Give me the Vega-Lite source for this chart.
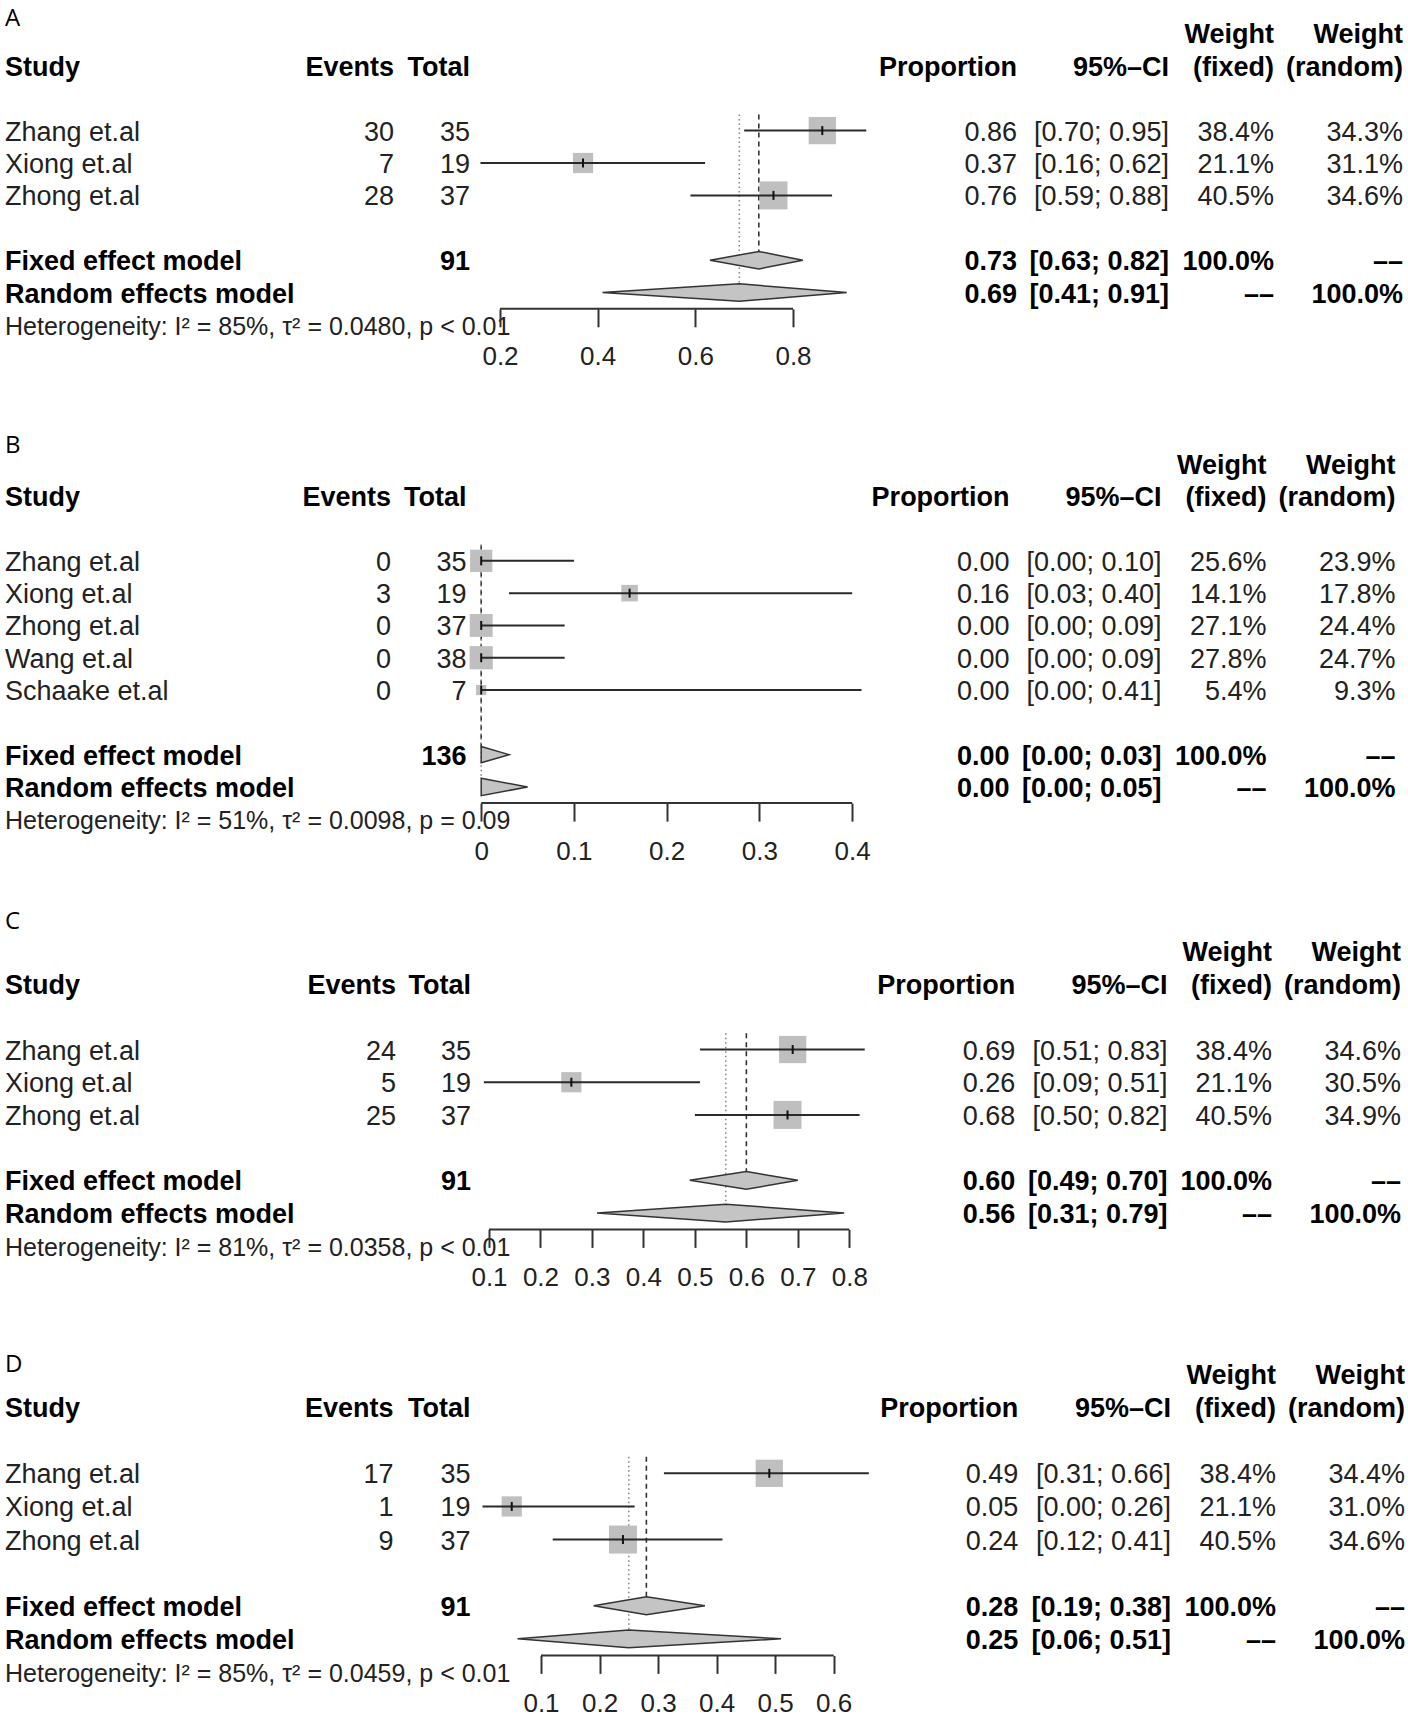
{
"$schema": "https://vega.github.io/schema/vega-lite/v6.json",
"padding": {"left": 5, "top": 1, "right": 0, "bottom": 0},
"background": "white",
"config": {"view": {"stroke": null}, "font": "Liberation Sans", "text": {"font": "Liberation Sans", "fontSize": 27, "baseline": "middle", "dy": 2}},
"datasets": {
"cells": [
{"p":"A","r":-0.52,"k":"lab","study":"A"},
{"p":"A","r":0,"k":"head","wf":"Weight","wr":"Weight"},
{"p":"A","r":1,"k":"head","study":"Study","ev":"Events","tot":"Total","prop":"Proportion","ci":"95%–CI","wf":"(fixed)","wr":"(random)"},
{"p":"A","r":3,"k":"study","study":"Zhang et.al","ev":"30","tot":"35","prop":"0.86","ci":"[0.70; 0.95]","wf":"38.4%","wr":"34.3%"},
{"p":"A","r":4,"k":"study","study":"Xiong et.al","ev":"7","tot":"19","prop":"0.37","ci":"[0.16; 0.62]","wf":"21.1%","wr":"31.1%"},
{"p":"A","r":5,"k":"study","study":"Zhong et.al","ev":"28","tot":"37","prop":"0.76","ci":"[0.59; 0.88]","wf":"40.5%","wr":"34.6%"},
{"p":"A","r":7,"k":"pool","study":"Fixed effect model","tot":"91","prop":"0.73","ci":"[0.63; 0.82]","wf":"100.0%","wr":"––"},
{"p":"A","r":8,"k":"pool","study":"Random effects model","prop":"0.69","ci":"[0.41; 0.91]","wf":"––","wr":"100.0%"},
{"p":"A","r":9,"k":"het","study":"Heterogeneity: I² = 85%, τ² = 0.0480, p < 0.01"},
{"p":"B","r":-0.61,"k":"lab","study":"B"},
{"p":"B","r":0,"k":"head","wf":"Weight","wr":"Weight"},
{"p":"B","r":1,"k":"head","study":"Study","ev":"Events","tot":"Total","prop":"Proportion","ci":"95%–CI","wf":"(fixed)","wr":"(random)"},
{"p":"B","r":3,"k":"study","study":"Zhang et.al","ev":"0","tot":"35","prop":"0.00","ci":"[0.00; 0.10]","wf":"25.6%","wr":"23.9%"},
{"p":"B","r":4,"k":"study","study":"Xiong et.al","ev":"3","tot":"19","prop":"0.16","ci":"[0.03; 0.40]","wf":"14.1%","wr":"17.8%"},
{"p":"B","r":5,"k":"study","study":"Zhong et.al","ev":"0","tot":"37","prop":"0.00","ci":"[0.00; 0.09]","wf":"27.1%","wr":"24.4%"},
{"p":"B","r":6,"k":"study","study":"Wang et.al","ev":"0","tot":"38","prop":"0.00","ci":"[0.00; 0.09]","wf":"27.8%","wr":"24.7%"},
{"p":"B","r":7,"k":"study","study":"Schaake et.al","ev":"0","tot":"7","prop":"0.00","ci":"[0.00; 0.41]","wf":"5.4%","wr":"9.3%"},
{"p":"B","r":9,"k":"pool","study":"Fixed effect model","tot":"136","prop":"0.00","ci":"[0.00; 0.03]","wf":"100.0%","wr":"––"},
{"p":"B","r":10,"k":"pool","study":"Random effects model","prop":"0.00","ci":"[0.00; 0.05]","wf":"––","wr":"100.0%"},
{"p":"B","r":11,"k":"het","study":"Heterogeneity: I² = 51%, τ² = 0.0098, p = 0.09"},
{"p":"C","r":-0.95,"k":"lab","study":"C"},
{"p":"C","r":0,"k":"head","wf":"Weight","wr":"Weight"},
{"p":"C","r":1,"k":"head","study":"Study","ev":"Events","tot":"Total","prop":"Proportion","ci":"95%–CI","wf":"(fixed)","wr":"(random)"},
{"p":"C","r":3,"k":"study","study":"Zhang et.al","ev":"24","tot":"35","prop":"0.69","ci":"[0.51; 0.83]","wf":"38.4%","wr":"34.6%"},
{"p":"C","r":4,"k":"study","study":"Xiong et.al","ev":"5","tot":"19","prop":"0.26","ci":"[0.09; 0.51]","wf":"21.1%","wr":"30.5%"},
{"p":"C","r":5,"k":"study","study":"Zhong et.al","ev":"25","tot":"37","prop":"0.68","ci":"[0.50; 0.82]","wf":"40.5%","wr":"34.9%"},
{"p":"C","r":7,"k":"pool","study":"Fixed effect model","tot":"91","prop":"0.60","ci":"[0.49; 0.70]","wf":"100.0%","wr":"––"},
{"p":"C","r":8,"k":"pool","study":"Random effects model","prop":"0.56","ci":"[0.31; 0.79]","wf":"––","wr":"100.0%"},
{"p":"C","r":9,"k":"het","study":"Heterogeneity: I² = 81%, τ² = 0.0358, p < 0.01"},
{"p":"D","r":-0.34,"k":"lab","study":"D"},
{"p":"D","r":0,"k":"head","wf":"Weight","wr":"Weight"},
{"p":"D","r":1,"k":"head","study":"Study","ev":"Events","tot":"Total","prop":"Proportion","ci":"95%–CI","wf":"(fixed)","wr":"(random)"},
{"p":"D","r":3,"k":"study","study":"Zhang et.al","ev":"17","tot":"35","prop":"0.49","ci":"[0.31; 0.66]","wf":"38.4%","wr":"34.4%"},
{"p":"D","r":4,"k":"study","study":"Xiong et.al","ev":"1","tot":"19","prop":"0.05","ci":"[0.00; 0.26]","wf":"21.1%","wr":"31.0%"},
{"p":"D","r":5,"k":"study","study":"Zhong et.al","ev":"9","tot":"37","prop":"0.24","ci":"[0.12; 0.41]","wf":"40.5%","wr":"34.6%"},
{"p":"D","r":7,"k":"pool","study":"Fixed effect model","tot":"91","prop":"0.28","ci":"[0.19; 0.38]","wf":"100.0%","wr":"––"},
{"p":"D","r":8,"k":"pool","study":"Random effects model","prop":"0.25","ci":"[0.06; 0.51]","wf":"––","wr":"100.0%"},
{"p":"D","r":9,"k":"het","study":"Heterogeneity: I² = 85%, τ² = 0.0459, p < 0.01"}
],
"est": [
{"p":"A","r":3,"est":0.86,"lo":0.70,"hi":0.95,"wf":38.4},
{"p":"A","r":4,"est":0.37,"lo":0.16,"hi":0.62,"wf":21.1},
{"p":"A","r":5,"est":0.76,"lo":0.59,"hi":0.88,"wf":40.5},
{"p":"B","r":3,"est":0.00,"lo":0.00,"hi":0.10,"wf":25.6},
{"p":"B","r":4,"est":0.16,"lo":0.03,"hi":0.40,"wf":14.1},
{"p":"B","r":5,"est":0.00,"lo":0.00,"hi":0.09,"wf":27.1},
{"p":"B","r":6,"est":0.00,"lo":0.00,"hi":0.09,"wf":27.8},
{"p":"B","r":7,"est":0.00,"lo":0.00,"hi":0.41,"wf":5.4},
{"p":"C","r":3,"est":0.69,"lo":0.51,"hi":0.83,"wf":38.4},
{"p":"C","r":4,"est":0.26,"lo":0.09,"hi":0.51,"wf":21.1},
{"p":"C","r":5,"est":0.68,"lo":0.50,"hi":0.82,"wf":40.5},
{"p":"D","r":3,"est":0.49,"lo":0.31,"hi":0.66,"wf":38.4},
{"p":"D","r":4,"est":0.05,"lo":0.00,"hi":0.26,"wf":21.1},
{"p":"D","r":5,"est":0.24,"lo":0.12,"hi":0.41,"wf":40.5}
],
"dia": [
{"p":"A","m":"fixed","x":0.63,"r":7,"r2":7},{"p":"A","m":"fixed","x":0.73,"r":6.73,"r2":7.27},{"p":"A","m":"fixed","x":0.82,"r":7,"r2":7},
{"p":"A","m":"random","x":0.41,"r":8,"r2":8},{"p":"A","m":"random","x":0.69,"r":7.73,"r2":8.27},{"p":"A","m":"random","x":0.91,"r":8,"r2":8},
{"p":"B","m":"fixed","x":0.00,"r":8.75,"r2":9.25},{"p":"B","m":"fixed","x":0.03,"r":9,"r2":9},
{"p":"B","m":"random","x":0.00,"r":9.73,"r2":10.27},{"p":"B","m":"random","x":0.05,"r":10,"r2":10},
{"p":"C","m":"fixed","x":0.49,"r":7,"r2":7},{"p":"C","m":"fixed","x":0.60,"r":6.73,"r2":7.27},{"p":"C","m":"fixed","x":0.70,"r":7,"r2":7},
{"p":"C","m":"random","x":0.31,"r":8,"r2":8},{"p":"C","m":"random","x":0.56,"r":7.73,"r2":8.27},{"p":"C","m":"random","x":0.79,"r":8,"r2":8},
{"p":"D","m":"fixed","x":0.19,"r":7,"r2":7},{"p":"D","m":"fixed","x":0.28,"r":6.73,"r2":7.27},{"p":"D","m":"fixed","x":0.38,"r":7,"r2":7},
{"p":"D","m":"random","x":0.06,"r":8,"r2":8},{"p":"D","m":"random","x":0.25,"r":7.73,"r2":8.27},{"p":"D","m":"random","x":0.51,"r":8,"r2":8}
],
"ref": [
{"p":"A","m":"fixed","x":0.73,"r":2.5,"r2":6.73},{"p":"A","m":"random","x":0.69,"r":2.5,"r2":7.73},
{"p":"B","m":"fixed","x":0.00,"r":2.5,"r2":8.75},{"p":"B","m":"random","x":0.00,"r":2.5,"r2":9.73},
{"p":"C","m":"fixed","x":0.60,"r":2.5,"r2":6.73},{"p":"C","m":"random","x":0.56,"r":2.5,"r2":7.73},
{"p":"D","m":"fixed","x":0.28,"r":2.5,"r2":6.73},{"p":"D","m":"random","x":0.25,"r":2.5,"r2":7.73}
],
"axl": [
{"p":"A","a":0.2,"b":0.8,"r":8.5},
{"p":"B","a":0.0,"b":0.4,"r":10.5},
{"p":"C","a":0.1,"b":0.8,"r":8.5},
{"p":"D","a":0.1,"b":0.6,"r":8.5}
]
},
"data": {"name": "cells"},
"spacing": 39,
"bounds": "full",
"vconcat": [
{"hconcat": [
{"width":295,"height":307.8,"transform":[{"filter":"datum.p == 'A' && isValid(datum.study)"}],
 "mark":{"type":"text","align":"left","font":{"expr":"datum.k == 'lab' ? 'Open Sans' : 'Liberation Sans'"},"fontSize":{"expr":"datum.k == 'het' ? 25 : datum.k == 'lab' ? 24 : 27"},"fontWeight":{"expr":"datum.k == 'head' || datum.k == 'pool' ? 'bold' : 'normal'"},"fill":{"expr":"datum.k == 'study' || datum.k == 'het' ? '#222222' : '#000000'"}},
 "encoding":{"x":{"datum":0,"type":"quantitative","scale":{"domain":[0,1]},"axis":null},"y":{"field":"r","type":"quantitative","scale":{"domain":[-1,8.5],"reverse":true,"nice":false,"zero":false},"axis":null},"text":{"field":"study","type":"nominal"}}},
{"width":94,"height":307.8,"transform":[{"filter":"datum.p == 'A' && isValid(datum.ev)"}],
 "mark":{"type":"text","align":"right","fontWeight":{"expr":"datum.k == 'head' || datum.k == 'pool' ? 'bold' : 'normal'"},"fill":{"expr":"datum.k == 'study' ? '#222222' : '#000000'"}},
 "encoding":{"x":{"datum":1,"type":"quantitative","scale":{"domain":[0,1]},"axis":null},"y":{"field":"r","type":"quantitative","scale":{"domain":[-1,8.5],"reverse":true,"nice":false,"zero":false},"axis":null},"text":{"field":"ev","type":"nominal"}}},
{"width":76,"height":307.8,"transform":[{"filter":"datum.p == 'A' && isValid(datum.tot)"}],
 "mark":{"type":"text","align":"right","fontWeight":{"expr":"datum.k == 'head' || datum.k == 'pool' ? 'bold' : 'normal'"},"fill":{"expr":"datum.k == 'study' ? '#222222' : '#000000'"}},
 "encoding":{"x":{"datum":1,"type":"quantitative","scale":{"domain":[0,1]},"axis":null},"y":{"field":"r","type":"quantitative","scale":{"domain":[-1,8.5],"reverse":true,"nice":false,"zero":false},"axis":null},"text":{"field":"tot","type":"nominal"}}},
{"width":353,"height":307.8,
 "encoding":{"y":{"field":"r","type":"quantitative","scale":{"domain":[-1,8.5],"reverse":true,"nice":false,"zero":false},"axis":null,"stack":null}},
 "layer":[
  {"data":{"name":"ref"},"transform":[{"filter":"datum.p == 'A'"}],"mark":{"type":"rule","strokeWidth":1.6},
   "encoding":{"x":{"field":"x","type":"quantitative","scale":{"domain":[0.2,0.8],"padding":30,"nice":false,"zero":false},"axis":{"values":[0.2,0.4,0.6,0.8],"format":"~g","domain":false,"grid":false,"tickSize":18,"tickWidth":2,"tickColor":"#333333","labelFontSize":26,"labelFont":"Liberation Sans","labelColor":"#222222","labelPadding":17,"title":null,"labelFlush":false,"labelOverlap":false,"labelBound":false}},
    "y2":{"field":"r2"},
    "strokeDash":{"field":"m","type":"nominal","scale":{"domain":["fixed","random"],"range":[[5,4],[1.5,3]]},"legend":null},
    "color":{"field":"m","type":"nominal","scale":{"domain":["fixed","random"],"range":["#333333","#8a8a8a"]},"legend":null}}},
  {"data":{"name":"est"},"transform":[{"filter":"datum.p == 'A'"}],"mark":{"type":"square","filled":true,"color":"#bfbfbf","opacity":1},
   "encoding":{"x":{"field":"est","type":"quantitative","scale":{"domain":[0.2,0.8],"padding":30,"nice":false,"zero":false},"axis":{"values":[0.2,0.4,0.6,0.8],"format":"~g","domain":false,"grid":false,"tickSize":18,"tickWidth":2,"tickColor":"#333333","labelFontSize":26,"labelFont":"Liberation Sans","labelColor":"#222222","labelPadding":17,"title":null,"labelFlush":false,"labelOverlap":false,"labelBound":false}},"size":{"field":"wf","type":"quantitative","scale":{"domain":[0,40.5],"range":[0,784]},"legend":null}}},
  {"data":{"name":"est"},"transform":[{"filter":"datum.p == 'A'"}],"mark":{"type":"rule","color":"#2a2a2a","strokeWidth":2},
   "encoding":{"x":{"field":"lo","type":"quantitative","scale":{"domain":[0.2,0.8],"padding":30,"nice":false,"zero":false},"axis":{"values":[0.2,0.4,0.6,0.8],"format":"~g","domain":false,"grid":false,"tickSize":18,"tickWidth":2,"tickColor":"#333333","labelFontSize":26,"labelFont":"Liberation Sans","labelColor":"#222222","labelPadding":17,"title":null,"labelFlush":false,"labelOverlap":false,"labelBound":false}},"x2":{"field":"hi"}}},
  {"data":{"name":"est"},"transform":[{"filter":"datum.p == 'A'"}],"mark":{"type":"tick","orient":"vertical","color":"#111111","size":9,"thickness":2,"opacity":1},
   "encoding":{"x":{"field":"est","type":"quantitative","scale":{"domain":[0.2,0.8],"padding":30,"nice":false,"zero":false},"axis":{"values":[0.2,0.4,0.6,0.8],"format":"~g","domain":false,"grid":false,"tickSize":18,"tickWidth":2,"tickColor":"#333333","labelFontSize":26,"labelFont":"Liberation Sans","labelColor":"#222222","labelPadding":17,"title":null,"labelFlush":false,"labelOverlap":false,"labelBound":false}}}},
  {"data":{"name":"dia"},"transform":[{"filter":"datum.p == 'A'"}],"mark":{"type":"area","color":"#c4c4c4","stroke":"#333333","strokeWidth":1.5,"opacity":1},
   "encoding":{"x":{"field":"x","type":"quantitative","scale":{"domain":[0.2,0.8],"padding":30,"nice":false,"zero":false},"axis":{"values":[0.2,0.4,0.6,0.8],"format":"~g","domain":false,"grid":false,"tickSize":18,"tickWidth":2,"tickColor":"#333333","labelFontSize":26,"labelFont":"Liberation Sans","labelColor":"#222222","labelPadding":17,"title":null,"labelFlush":false,"labelOverlap":false,"labelBound":false}},"y2":{"field":"r2"},"detail":{"field":"m","type":"nominal"}}},
  {"data":{"name":"axl"},"transform":[{"filter":"datum.p == 'A'"}],"mark":{"type":"rule","color":"#333333","strokeWidth":2},
   "encoding":{"x":{"field":"a","type":"quantitative","scale":{"domain":[0.2,0.8],"padding":30,"nice":false,"zero":false},"axis":{"values":[0.2,0.4,0.6,0.8],"format":"~g","domain":false,"grid":false,"tickSize":18,"tickWidth":2,"tickColor":"#333333","labelFontSize":26,"labelFont":"Liberation Sans","labelColor":"#222222","labelPadding":17,"title":null,"labelFlush":false,"labelOverlap":false,"labelBound":false}},"x2":{"field":"b"}}}
 ]},
{"width":194,"height":307.8,"transform":[{"filter":"datum.p == 'A' && isValid(datum.prop)"}],
 "mark":{"type":"text","align":"right","fontWeight":{"expr":"datum.k == 'head' || datum.k == 'pool' ? 'bold' : 'normal'"},"fill":{"expr":"datum.k == 'study' ? '#222222' : '#000000'"}},
 "encoding":{"x":{"datum":1,"type":"quantitative","scale":{"domain":[0,1]},"axis":null},"y":{"field":"r","type":"quantitative","scale":{"domain":[-1,8.5],"reverse":true,"nice":false,"zero":false},"axis":null},"text":{"field":"prop","type":"nominal"}}},
{"width":152,"height":307.8,"transform":[{"filter":"datum.p == 'A' && isValid(datum.ci)"}],
 "mark":{"type":"text","align":"right","fontWeight":{"expr":"datum.k == 'head' || datum.k == 'pool' ? 'bold' : 'normal'"},"fill":{"expr":"datum.k == 'study' ? '#222222' : '#000000'"}},
 "encoding":{"x":{"datum":1,"type":"quantitative","scale":{"domain":[0,1]},"axis":null},"y":{"field":"r","type":"quantitative","scale":{"domain":[-1,8.5],"reverse":true,"nice":false,"zero":false},"axis":null},"text":{"field":"ci","type":"nominal"}}},
{"width":105,"height":307.8,"transform":[{"filter":"datum.p == 'A' && isValid(datum.wf)"}],
 "mark":{"type":"text","align":"right","fontWeight":{"expr":"datum.k == 'head' || datum.k == 'pool' ? 'bold' : 'normal'"},"fill":{"expr":"datum.k == 'study' ? '#222222' : '#000000'"}},
 "encoding":{"x":{"datum":1,"type":"quantitative","scale":{"domain":[0,1]},"axis":null},"y":{"field":"r","type":"quantitative","scale":{"domain":[-1,8.5],"reverse":true,"nice":false,"zero":false},"axis":null},"text":{"field":"wf","type":"nominal"}}},
{"width":129,"height":307.8,"transform":[{"filter":"datum.p == 'A' && isValid(datum.wr)"}],
 "mark":{"type":"text","align":"right","fontWeight":{"expr":"datum.k == 'head' || datum.k == 'pool' ? 'bold' : 'normal'"},"fill":{"expr":"datum.k == 'study' ? '#222222' : '#000000'"}},
 "encoding":{"x":{"datum":1,"type":"quantitative","scale":{"domain":[0,1]},"axis":null},"y":{"field":"r","type":"quantitative","scale":{"domain":[-1,8.5],"reverse":true,"nice":false,"zero":false},"axis":null},"text":{"field":"wr","type":"nominal"}}}
],"spacing":0,"bounds":"flush"},

{"hconcat": [
{"width":295,"height":394.1,"transform":[{"filter":"datum.p == 'B' && isValid(datum.study)"}],
 "mark":{"type":"text","align":"left","font":{"expr":"datum.k == 'lab' ? 'Open Sans' : 'Liberation Sans'"},"fontSize":{"expr":"datum.k == 'het' ? 25 : datum.k == 'lab' ? 24 : 27"},"fontWeight":{"expr":"datum.k == 'head' || datum.k == 'pool' ? 'bold' : 'normal'"},"fill":{"expr":"datum.k == 'study' || datum.k == 'het' ? '#222222' : '#000000'"}},
 "encoding":{"x":{"datum":0,"type":"quantitative","scale":{"domain":[0,1]},"axis":null},"y":{"field":"r","type":"quantitative","scale":{"domain":[-1.7,10.5],"reverse":true,"nice":false,"zero":false},"axis":null},"text":{"field":"study","type":"nominal"}}},
{"width":91,"height":394.1,"transform":[{"filter":"datum.p == 'B' && isValid(datum.ev)"}],
 "mark":{"type":"text","align":"right","fontWeight":{"expr":"datum.k == 'head' || datum.k == 'pool' ? 'bold' : 'normal'"},"fill":{"expr":"datum.k == 'study' ? '#222222' : '#000000'"}},
 "encoding":{"x":{"datum":1,"type":"quantitative","scale":{"domain":[0,1]},"axis":null},"y":{"field":"r","type":"quantitative","scale":{"domain":[-1.7,10.5],"reverse":true,"nice":false,"zero":false},"axis":null},"text":{"field":"ev","type":"nominal"}}},
{"width":75.5,"height":394.1,"transform":[{"filter":"datum.p == 'B' && isValid(datum.tot)"}],
 "mark":{"type":"text","align":"right","fontWeight":{"expr":"datum.k == 'head' || datum.k == 'pool' ? 'bold' : 'normal'"},"fill":{"expr":"datum.k == 'study' ? '#222222' : '#000000'"}},
 "encoding":{"x":{"datum":1,"type":"quantitative","scale":{"domain":[0,1]},"axis":null},"y":{"field":"r","type":"quantitative","scale":{"domain":[-1.7,10.5],"reverse":true,"nice":false,"zero":false},"axis":null},"text":{"field":"tot","type":"nominal"}}},
{"width":399.4,"height":394.1,
 "encoding":{"y":{"field":"r","type":"quantitative","scale":{"domain":[-1.7,10.5],"reverse":true,"nice":false,"zero":false},"axis":null,"stack":null}},
 "layer":[
  {"data":{"name":"ref"},"transform":[{"filter":"datum.p == 'B'"}],"mark":{"type":"rule","strokeWidth":1.6},
   "encoding":{"x":{"field":"x","type":"quantitative","scale":{"domain":[0,0.4],"padding":14.2,"nice":false,"zero":false},"axis":{"values":[0,0.1,0.2,0.3,0.4],"format":"~g","domain":false,"grid":false,"tickSize":18,"tickWidth":2,"tickColor":"#333333","labelFontSize":26,"labelFont":"Liberation Sans","labelColor":"#222222","labelPadding":17,"title":null,"labelFlush":false,"labelOverlap":false,"labelBound":false}},
    "y2":{"field":"r2"},
    "strokeDash":{"field":"m","type":"nominal","scale":{"domain":["fixed","random"],"range":[[5,4],[1.5,3]]},"legend":null},
    "color":{"field":"m","type":"nominal","scale":{"domain":["fixed","random"],"range":["#333333","#8a8a8a"]},"legend":null}}},
  {"data":{"name":"est"},"transform":[{"filter":"datum.p == 'B'"}],"mark":{"type":"square","filled":true,"color":"#bfbfbf","opacity":1},
   "encoding":{"x":{"field":"est","type":"quantitative","scale":{"domain":[0,0.4],"padding":14.2,"nice":false,"zero":false},"axis":{"values":[0,0.1,0.2,0.3,0.4],"format":"~g","domain":false,"grid":false,"tickSize":18,"tickWidth":2,"tickColor":"#333333","labelFontSize":26,"labelFont":"Liberation Sans","labelColor":"#222222","labelPadding":17,"title":null,"labelFlush":false,"labelOverlap":false,"labelBound":false}},"size":{"field":"wf","type":"quantitative","scale":{"domain":[0,27.8],"range":[0,784]},"legend":null}}},
  {"data":{"name":"est"},"transform":[{"filter":"datum.p == 'B'"}],"mark":{"type":"rule","color":"#2a2a2a","strokeWidth":2},
   "encoding":{"x":{"field":"lo","type":"quantitative","scale":{"domain":[0,0.4],"padding":14.2,"nice":false,"zero":false},"axis":{"values":[0,0.1,0.2,0.3,0.4],"format":"~g","domain":false,"grid":false,"tickSize":18,"tickWidth":2,"tickColor":"#333333","labelFontSize":26,"labelFont":"Liberation Sans","labelColor":"#222222","labelPadding":17,"title":null,"labelFlush":false,"labelOverlap":false,"labelBound":false}},"x2":{"field":"hi"}}},
  {"data":{"name":"est"},"transform":[{"filter":"datum.p == 'B'"}],"mark":{"type":"tick","orient":"vertical","color":"#111111","size":9,"thickness":2,"opacity":1},
   "encoding":{"x":{"field":"est","type":"quantitative","scale":{"domain":[0,0.4],"padding":14.2,"nice":false,"zero":false},"axis":{"values":[0,0.1,0.2,0.3,0.4],"format":"~g","domain":false,"grid":false,"tickSize":18,"tickWidth":2,"tickColor":"#333333","labelFontSize":26,"labelFont":"Liberation Sans","labelColor":"#222222","labelPadding":17,"title":null,"labelFlush":false,"labelOverlap":false,"labelBound":false}}}},
  {"data":{"name":"dia"},"transform":[{"filter":"datum.p == 'B'"}],"mark":{"type":"area","color":"#c4c4c4","stroke":"#333333","strokeWidth":1.5,"opacity":1},
   "encoding":{"x":{"field":"x","type":"quantitative","scale":{"domain":[0,0.4],"padding":14.2,"nice":false,"zero":false},"axis":{"values":[0,0.1,0.2,0.3,0.4],"format":"~g","domain":false,"grid":false,"tickSize":18,"tickWidth":2,"tickColor":"#333333","labelFontSize":26,"labelFont":"Liberation Sans","labelColor":"#222222","labelPadding":17,"title":null,"labelFlush":false,"labelOverlap":false,"labelBound":false}},"y2":{"field":"r2"},"detail":{"field":"m","type":"nominal"}}},
  {"data":{"name":"axl"},"transform":[{"filter":"datum.p == 'B'"}],"mark":{"type":"rule","color":"#333333","strokeWidth":2},
   "encoding":{"x":{"field":"a","type":"quantitative","scale":{"domain":[0,0.4],"padding":14.2,"nice":false,"zero":false},"axis":{"values":[0,0.1,0.2,0.3,0.4],"format":"~g","domain":false,"grid":false,"tickSize":18,"tickWidth":2,"tickColor":"#333333","labelFontSize":26,"labelFont":"Liberation Sans","labelColor":"#222222","labelPadding":17,"title":null,"labelFlush":false,"labelOverlap":false,"labelBound":false}},"x2":{"field":"b"}}}
 ]},
{"width":142.6,"height":394.1,"transform":[{"filter":"datum.p == 'B' && isValid(datum.prop)"}],
 "mark":{"type":"text","align":"right","fontWeight":{"expr":"datum.k == 'head' || datum.k == 'pool' ? 'bold' : 'normal'"},"fill":{"expr":"datum.k == 'study' ? '#222222' : '#000000'"}},
 "encoding":{"x":{"datum":1,"type":"quantitative","scale":{"domain":[0,1]},"axis":null},"y":{"field":"r","type":"quantitative","scale":{"domain":[-1.7,10.5],"reverse":true,"nice":false,"zero":false},"axis":null},"text":{"field":"prop","type":"nominal"}}},
{"width":151.5,"height":394.1,"transform":[{"filter":"datum.p == 'B' && isValid(datum.ci)"}],
 "mark":{"type":"text","align":"right","fontWeight":{"expr":"datum.k == 'head' || datum.k == 'pool' ? 'bold' : 'normal'"},"fill":{"expr":"datum.k == 'study' ? '#222222' : '#000000'"}},
 "encoding":{"x":{"datum":1,"type":"quantitative","scale":{"domain":[0,1]},"axis":null},"y":{"field":"r","type":"quantitative","scale":{"domain":[-1.7,10.5],"reverse":true,"nice":false,"zero":false},"axis":null},"text":{"field":"ci","type":"nominal"}}},
{"width":104.5,"height":394.1,"transform":[{"filter":"datum.p == 'B' && isValid(datum.wf)"}],
 "mark":{"type":"text","align":"right","fontWeight":{"expr":"datum.k == 'head' || datum.k == 'pool' ? 'bold' : 'normal'"},"fill":{"expr":"datum.k == 'study' ? '#222222' : '#000000'"}},
 "encoding":{"x":{"datum":1,"type":"quantitative","scale":{"domain":[0,1]},"axis":null},"y":{"field":"r","type":"quantitative","scale":{"domain":[-1.7,10.5],"reverse":true,"nice":false,"zero":false},"axis":null},"text":{"field":"wf","type":"nominal"}}},
{"width":128.5,"height":394.1,"transform":[{"filter":"datum.p == 'B' && isValid(datum.wr)"}],
 "mark":{"type":"text","align":"right","fontWeight":{"expr":"datum.k == 'head' || datum.k == 'pool' ? 'bold' : 'normal'"},"fill":{"expr":"datum.k == 'study' ? '#222222' : '#000000'"}},
 "encoding":{"x":{"datum":1,"type":"quantitative","scale":{"domain":[0,1]},"axis":null},"y":{"field":"r","type":"quantitative","scale":{"domain":[-1.7,10.5],"reverse":true,"nice":false,"zero":false},"axis":null},"text":{"field":"wr","type":"nominal"}}}
],"spacing":0,"bounds":"flush"},

{"hconcat": [
{"width":295,"height":325.4,"transform":[{"filter":"datum.p == 'C' && isValid(datum.study)"}],
 "mark":{"type":"text","align":"left","font":{"expr":"datum.k == 'lab' ? 'Open Sans' : 'Liberation Sans'"},"fontSize":{"expr":"datum.k == 'het' ? 25 : datum.k == 'lab' ? 24 : 27"},"fontWeight":{"expr":"datum.k == 'head' || datum.k == 'pool' ? 'bold' : 'normal'"},"fill":{"expr":"datum.k == 'study' || datum.k == 'het' ? '#222222' : '#000000'"}},
 "encoding":{"x":{"datum":0,"type":"quantitative","scale":{"domain":[0,1]},"axis":null},"y":{"field":"r","type":"quantitative","scale":{"domain":[-1.45,8.5],"reverse":true,"nice":false,"zero":false},"axis":null},"text":{"field":"study","type":"nominal"}}},
{"width":96,"height":325.4,"transform":[{"filter":"datum.p == 'C' && isValid(datum.ev)"}],
 "mark":{"type":"text","align":"right","fontWeight":{"expr":"datum.k == 'head' || datum.k == 'pool' ? 'bold' : 'normal'"},"fill":{"expr":"datum.k == 'study' ? '#222222' : '#000000'"}},
 "encoding":{"x":{"datum":1,"type":"quantitative","scale":{"domain":[0,1]},"axis":null},"y":{"field":"r","type":"quantitative","scale":{"domain":[-1.45,8.5],"reverse":true,"nice":false,"zero":false},"axis":null},"text":{"field":"ev","type":"nominal"}}},
{"width":75,"height":325.4,"transform":[{"filter":"datum.p == 'C' && isValid(datum.tot)"}],
 "mark":{"type":"text","align":"right","fontWeight":{"expr":"datum.k == 'head' || datum.k == 'pool' ? 'bold' : 'normal'"},"fill":{"expr":"datum.k == 'study' ? '#222222' : '#000000'"}},
 "encoding":{"x":{"datum":1,"type":"quantitative","scale":{"domain":[0,1]},"axis":null},"y":{"field":"r","type":"quantitative","scale":{"domain":[-1.45,8.5],"reverse":true,"nice":false,"zero":false},"axis":null},"text":{"field":"tot","type":"nominal"}}},
{"width":396.3,"height":325.4,
 "encoding":{"y":{"field":"r","type":"quantitative","scale":{"domain":[-1.45,8.5],"reverse":true,"nice":false,"zero":false},"axis":null,"stack":null}},
 "layer":[
  {"data":{"name":"ref"},"transform":[{"filter":"datum.p == 'C'"}],"mark":{"type":"rule","strokeWidth":1.6},
   "encoding":{"x":{"field":"x","type":"quantitative","scale":{"domain":[0.1,0.8],"padding":18,"nice":false,"zero":false},"axis":{"values":[0.1,0.2,0.3,0.4,0.5,0.6,0.7,0.8],"format":"~g","domain":false,"grid":false,"tickSize":18,"tickWidth":2,"tickColor":"#333333","labelFontSize":26,"labelFont":"Liberation Sans","labelColor":"#222222","labelPadding":17,"title":null,"labelFlush":false,"labelOverlap":false,"labelBound":false}},
    "y2":{"field":"r2"},
    "strokeDash":{"field":"m","type":"nominal","scale":{"domain":["fixed","random"],"range":[[5,4],[1.5,3]]},"legend":null},
    "color":{"field":"m","type":"nominal","scale":{"domain":["fixed","random"],"range":["#333333","#8a8a8a"]},"legend":null}}},
  {"data":{"name":"est"},"transform":[{"filter":"datum.p == 'C'"}],"mark":{"type":"square","filled":true,"color":"#bfbfbf","opacity":1},
   "encoding":{"x":{"field":"est","type":"quantitative","scale":{"domain":[0.1,0.8],"padding":18,"nice":false,"zero":false},"axis":{"values":[0.1,0.2,0.3,0.4,0.5,0.6,0.7,0.8],"format":"~g","domain":false,"grid":false,"tickSize":18,"tickWidth":2,"tickColor":"#333333","labelFontSize":26,"labelFont":"Liberation Sans","labelColor":"#222222","labelPadding":17,"title":null,"labelFlush":false,"labelOverlap":false,"labelBound":false}},"size":{"field":"wf","type":"quantitative","scale":{"domain":[0,40.5],"range":[0,784]},"legend":null}}},
  {"data":{"name":"est"},"transform":[{"filter":"datum.p == 'C'"}],"mark":{"type":"rule","color":"#2a2a2a","strokeWidth":2},
   "encoding":{"x":{"field":"lo","type":"quantitative","scale":{"domain":[0.1,0.8],"padding":18,"nice":false,"zero":false},"axis":{"values":[0.1,0.2,0.3,0.4,0.5,0.6,0.7,0.8],"format":"~g","domain":false,"grid":false,"tickSize":18,"tickWidth":2,"tickColor":"#333333","labelFontSize":26,"labelFont":"Liberation Sans","labelColor":"#222222","labelPadding":17,"title":null,"labelFlush":false,"labelOverlap":false,"labelBound":false}},"x2":{"field":"hi"}}},
  {"data":{"name":"est"},"transform":[{"filter":"datum.p == 'C'"}],"mark":{"type":"tick","orient":"vertical","color":"#111111","size":9,"thickness":2,"opacity":1},
   "encoding":{"x":{"field":"est","type":"quantitative","scale":{"domain":[0.1,0.8],"padding":18,"nice":false,"zero":false},"axis":{"values":[0.1,0.2,0.3,0.4,0.5,0.6,0.7,0.8],"format":"~g","domain":false,"grid":false,"tickSize":18,"tickWidth":2,"tickColor":"#333333","labelFontSize":26,"labelFont":"Liberation Sans","labelColor":"#222222","labelPadding":17,"title":null,"labelFlush":false,"labelOverlap":false,"labelBound":false}}}},
  {"data":{"name":"dia"},"transform":[{"filter":"datum.p == 'C'"}],"mark":{"type":"area","color":"#c4c4c4","stroke":"#333333","strokeWidth":1.5,"opacity":1},
   "encoding":{"x":{"field":"x","type":"quantitative","scale":{"domain":[0.1,0.8],"padding":18,"nice":false,"zero":false},"axis":{"values":[0.1,0.2,0.3,0.4,0.5,0.6,0.7,0.8],"format":"~g","domain":false,"grid":false,"tickSize":18,"tickWidth":2,"tickColor":"#333333","labelFontSize":26,"labelFont":"Liberation Sans","labelColor":"#222222","labelPadding":17,"title":null,"labelFlush":false,"labelOverlap":false,"labelBound":false}},"y2":{"field":"r2"},"detail":{"field":"m","type":"nominal"}}},
  {"data":{"name":"axl"},"transform":[{"filter":"datum.p == 'C'"}],"mark":{"type":"rule","color":"#333333","strokeWidth":2},
   "encoding":{"x":{"field":"a","type":"quantitative","scale":{"domain":[0.1,0.8],"padding":18,"nice":false,"zero":false},"axis":{"values":[0.1,0.2,0.3,0.4,0.5,0.6,0.7,0.8],"format":"~g","domain":false,"grid":false,"tickSize":18,"tickWidth":2,"tickColor":"#333333","labelFontSize":26,"labelFont":"Liberation Sans","labelColor":"#222222","labelPadding":17,"title":null,"labelFlush":false,"labelOverlap":false,"labelBound":false}},"x2":{"field":"b"}}}
 ]},
{"width":147.2,"height":325.4,"transform":[{"filter":"datum.p == 'C' && isValid(datum.prop)"}],
 "mark":{"type":"text","align":"right","fontWeight":{"expr":"datum.k == 'head' || datum.k == 'pool' ? 'bold' : 'normal'"},"fill":{"expr":"datum.k == 'study' ? '#222222' : '#000000'"}},
 "encoding":{"x":{"datum":1,"type":"quantitative","scale":{"domain":[0,1]},"axis":null},"y":{"field":"r","type":"quantitative","scale":{"domain":[-1.45,8.5],"reverse":true,"nice":false,"zero":false},"axis":null},"text":{"field":"prop","type":"nominal"}}},
{"width":151.5,"height":325.4,"transform":[{"filter":"datum.p == 'C' && isValid(datum.ci)"}],
 "mark":{"type":"text","align":"right","fontWeight":{"expr":"datum.k == 'head' || datum.k == 'pool' ? 'bold' : 'normal'"},"fill":{"expr":"datum.k == 'study' ? '#222222' : '#000000'"}},
 "encoding":{"x":{"datum":1,"type":"quantitative","scale":{"domain":[0,1]},"axis":null},"y":{"field":"r","type":"quantitative","scale":{"domain":[-1.45,8.5],"reverse":true,"nice":false,"zero":false},"axis":null},"text":{"field":"ci","type":"nominal"}}},
{"width":104,"height":325.4,"transform":[{"filter":"datum.p == 'C' && isValid(datum.wf)"}],
 "mark":{"type":"text","align":"right","fontWeight":{"expr":"datum.k == 'head' || datum.k == 'pool' ? 'bold' : 'normal'"},"fill":{"expr":"datum.k == 'study' ? '#222222' : '#000000'"}},
 "encoding":{"x":{"datum":1,"type":"quantitative","scale":{"domain":[0,1]},"axis":null},"y":{"field":"r","type":"quantitative","scale":{"domain":[-1.45,8.5],"reverse":true,"nice":false,"zero":false},"axis":null},"text":{"field":"wf","type":"nominal"}}},
{"width":129,"height":325.4,"transform":[{"filter":"datum.p == 'C' && isValid(datum.wr)"}],
 "mark":{"type":"text","align":"right","fontWeight":{"expr":"datum.k == 'head' || datum.k == 'pool' ? 'bold' : 'normal'"},"fill":{"expr":"datum.k == 'study' ? '#222222' : '#000000'"}},
 "encoding":{"x":{"datum":1,"type":"quantitative","scale":{"domain":[0,1]},"axis":null},"y":{"field":"r","type":"quantitative","scale":{"domain":[-1.45,8.5],"reverse":true,"nice":false,"zero":false},"axis":null},"text":{"field":"wr","type":"nominal"}}}
],"spacing":0,"bounds":"flush"},

{"hconcat": [
{"width":295,"height":325.4,"transform":[{"filter":"datum.p == 'D' && isValid(datum.study)"}],
 "mark":{"type":"text","align":"left","font":{"expr":"datum.k == 'lab' ? 'Open Sans' : 'Liberation Sans'"},"fontSize":{"expr":"datum.k == 'het' ? 25 : datum.k == 'lab' ? 24 : 27"},"fontWeight":{"expr":"datum.k == 'head' || datum.k == 'pool' ? 'bold' : 'normal'"},"fill":{"expr":"datum.k == 'study' || datum.k == 'het' ? '#222222' : '#000000'"}},
 "encoding":{"x":{"datum":0,"type":"quantitative","scale":{"domain":[0,1]},"axis":null},"y":{"field":"r","type":"quantitative","scale":{"domain":[-1.33,8.5],"reverse":true,"nice":false,"zero":false},"axis":null},"text":{"field":"study","type":"nominal"}}},
{"width":93.5,"height":325.4,"transform":[{"filter":"datum.p == 'D' && isValid(datum.ev)"}],
 "mark":{"type":"text","align":"right","fontWeight":{"expr":"datum.k == 'head' || datum.k == 'pool' ? 'bold' : 'normal'"},"fill":{"expr":"datum.k == 'study' ? '#222222' : '#000000'"}},
 "encoding":{"x":{"datum":1,"type":"quantitative","scale":{"domain":[0,1]},"axis":null},"y":{"field":"r","type":"quantitative","scale":{"domain":[-1.33,8.5],"reverse":true,"nice":false,"zero":false},"axis":null},"text":{"field":"ev","type":"nominal"}}},
{"width":76.5,"height":325.4,"transform":[{"filter":"datum.p == 'D' && isValid(datum.tot)"}],
 "mark":{"type":"text","align":"right","fontWeight":{"expr":"datum.k == 'head' || datum.k == 'pool' ? 'bold' : 'normal'"},"fill":{"expr":"datum.k == 'study' ? '#222222' : '#000000'"}},
 "encoding":{"x":{"datum":1,"type":"quantitative","scale":{"domain":[0,1]},"axis":null},"y":{"field":"r","type":"quantitative","scale":{"domain":[-1.33,8.5],"reverse":true,"nice":false,"zero":false},"axis":null},"text":{"field":"tot","type":"nominal"}}},
{"width":432.7,"height":325.4,
 "encoding":{"y":{"field":"r","type":"quantitative","scale":{"domain":[-1.33,8.5],"reverse":true,"nice":false,"zero":false},"axis":null,"stack":null}},
 "layer":[
  {"data":{"name":"ref"},"transform":[{"filter":"datum.p == 'D'"}],"mark":{"type":"rule","strokeWidth":1.6},
   "encoding":{"x":{"field":"x","type":"quantitative","scale":{"domain":[0.1,0.6],"padding":70,"nice":false,"zero":false},"axis":{"values":[0.1,0.2,0.3,0.4,0.5,0.6],"format":"~g","domain":false,"grid":false,"tickSize":18,"tickWidth":2,"tickColor":"#333333","labelFontSize":26,"labelFont":"Liberation Sans","labelColor":"#222222","labelPadding":17,"title":null,"labelFlush":false,"labelOverlap":false,"labelBound":false}},
    "y2":{"field":"r2"},
    "strokeDash":{"field":"m","type":"nominal","scale":{"domain":["fixed","random"],"range":[[5,4],[1.5,3]]},"legend":null},
    "color":{"field":"m","type":"nominal","scale":{"domain":["fixed","random"],"range":["#333333","#8a8a8a"]},"legend":null}}},
  {"data":{"name":"est"},"transform":[{"filter":"datum.p == 'D'"}],"mark":{"type":"square","filled":true,"color":"#bfbfbf","opacity":1},
   "encoding":{"x":{"field":"est","type":"quantitative","scale":{"domain":[0.1,0.6],"padding":70,"nice":false,"zero":false},"axis":{"values":[0.1,0.2,0.3,0.4,0.5,0.6],"format":"~g","domain":false,"grid":false,"tickSize":18,"tickWidth":2,"tickColor":"#333333","labelFontSize":26,"labelFont":"Liberation Sans","labelColor":"#222222","labelPadding":17,"title":null,"labelFlush":false,"labelOverlap":false,"labelBound":false}},"size":{"field":"wf","type":"quantitative","scale":{"domain":[0,40.5],"range":[0,784]},"legend":null}}},
  {"data":{"name":"est"},"transform":[{"filter":"datum.p == 'D'"}],"mark":{"type":"rule","color":"#2a2a2a","strokeWidth":2},
   "encoding":{"x":{"field":"lo","type":"quantitative","scale":{"domain":[0.1,0.6],"padding":70,"nice":false,"zero":false},"axis":{"values":[0.1,0.2,0.3,0.4,0.5,0.6],"format":"~g","domain":false,"grid":false,"tickSize":18,"tickWidth":2,"tickColor":"#333333","labelFontSize":26,"labelFont":"Liberation Sans","labelColor":"#222222","labelPadding":17,"title":null,"labelFlush":false,"labelOverlap":false,"labelBound":false}},"x2":{"field":"hi"}}},
  {"data":{"name":"est"},"transform":[{"filter":"datum.p == 'D'"}],"mark":{"type":"tick","orient":"vertical","color":"#111111","size":9,"thickness":2,"opacity":1},
   "encoding":{"x":{"field":"est","type":"quantitative","scale":{"domain":[0.1,0.6],"padding":70,"nice":false,"zero":false},"axis":{"values":[0.1,0.2,0.3,0.4,0.5,0.6],"format":"~g","domain":false,"grid":false,"tickSize":18,"tickWidth":2,"tickColor":"#333333","labelFontSize":26,"labelFont":"Liberation Sans","labelColor":"#222222","labelPadding":17,"title":null,"labelFlush":false,"labelOverlap":false,"labelBound":false}}}},
  {"data":{"name":"dia"},"transform":[{"filter":"datum.p == 'D'"}],"mark":{"type":"area","color":"#c4c4c4","stroke":"#333333","strokeWidth":1.5,"opacity":1},
   "encoding":{"x":{"field":"x","type":"quantitative","scale":{"domain":[0.1,0.6],"padding":70,"nice":false,"zero":false},"axis":{"values":[0.1,0.2,0.3,0.4,0.5,0.6],"format":"~g","domain":false,"grid":false,"tickSize":18,"tickWidth":2,"tickColor":"#333333","labelFontSize":26,"labelFont":"Liberation Sans","labelColor":"#222222","labelPadding":17,"title":null,"labelFlush":false,"labelOverlap":false,"labelBound":false}},"y2":{"field":"r2"},"detail":{"field":"m","type":"nominal"}}},
  {"data":{"name":"axl"},"transform":[{"filter":"datum.p == 'D'"}],"mark":{"type":"rule","color":"#333333","strokeWidth":2},
   "encoding":{"x":{"field":"a","type":"quantitative","scale":{"domain":[0.1,0.6],"padding":70,"nice":false,"zero":false},"axis":{"values":[0.1,0.2,0.3,0.4,0.5,0.6],"format":"~g","domain":false,"grid":false,"tickSize":18,"tickWidth":2,"tickColor":"#333333","labelFontSize":26,"labelFont":"Liberation Sans","labelColor":"#222222","labelPadding":17,"title":null,"labelFlush":false,"labelOverlap":false,"labelBound":false}},"x2":{"field":"b"}}}
 ]},
{"width":114.3,"height":325.4,"transform":[{"filter":"datum.p == 'D' && isValid(datum.prop)"}],
 "mark":{"type":"text","align":"right","fontWeight":{"expr":"datum.k == 'head' || datum.k == 'pool' ? 'bold' : 'normal'"},"fill":{"expr":"datum.k == 'study' ? '#222222' : '#000000'"}},
 "encoding":{"x":{"datum":1,"type":"quantitative","scale":{"domain":[0,1]},"axis":null},"y":{"field":"r","type":"quantitative","scale":{"domain":[-1.33,8.5],"reverse":true,"nice":false,"zero":false},"axis":null},"text":{"field":"prop","type":"nominal"}}},
{"width":152,"height":325.4,"transform":[{"filter":"datum.p == 'D' && isValid(datum.ci)"}],
 "mark":{"type":"text","align":"right","fontWeight":{"expr":"datum.k == 'head' || datum.k == 'pool' ? 'bold' : 'normal'"},"fill":{"expr":"datum.k == 'study' ? '#222222' : '#000000'"}},
 "encoding":{"x":{"datum":1,"type":"quantitative","scale":{"domain":[0,1]},"axis":null},"y":{"field":"r","type":"quantitative","scale":{"domain":[-1.33,8.5],"reverse":true,"nice":false,"zero":false},"axis":null},"text":{"field":"ci","type":"nominal"}}},
{"width":105,"height":325.4,"transform":[{"filter":"datum.p == 'D' && isValid(datum.wf)"}],
 "mark":{"type":"text","align":"right","fontWeight":{"expr":"datum.k == 'head' || datum.k == 'pool' ? 'bold' : 'normal'"},"fill":{"expr":"datum.k == 'study' ? '#222222' : '#000000'"}},
 "encoding":{"x":{"datum":1,"type":"quantitative","scale":{"domain":[0,1]},"axis":null},"y":{"field":"r","type":"quantitative","scale":{"domain":[-1.33,8.5],"reverse":true,"nice":false,"zero":false},"axis":null},"text":{"field":"wf","type":"nominal"}}},
{"width":129,"height":325.4,"transform":[{"filter":"datum.p == 'D' && isValid(datum.wr)"}],
 "mark":{"type":"text","align":"right","fontWeight":{"expr":"datum.k == 'head' || datum.k == 'pool' ? 'bold' : 'normal'"},"fill":{"expr":"datum.k == 'study' ? '#222222' : '#000000'"}},
 "encoding":{"x":{"datum":1,"type":"quantitative","scale":{"domain":[0,1]},"axis":null},"y":{"field":"r","type":"quantitative","scale":{"domain":[-1.33,8.5],"reverse":true,"nice":false,"zero":false},"axis":null},"text":{"field":"wr","type":"nominal"}}}
],"spacing":0,"bounds":"flush"}
]
}
